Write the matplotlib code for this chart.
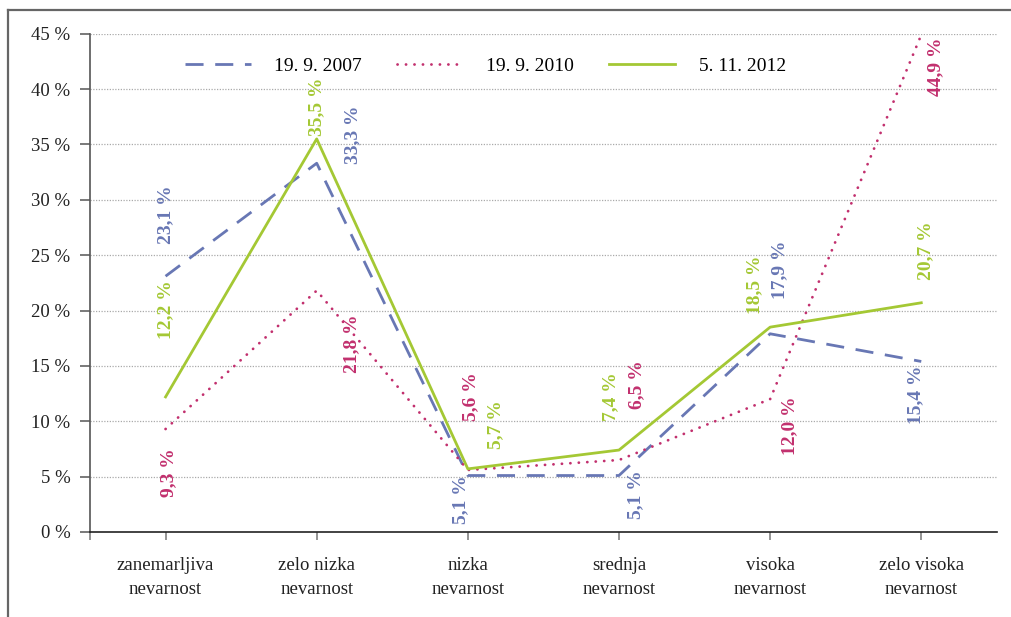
import matplotlib
matplotlib.use('Agg')
import matplotlib.pyplot as plt
from matplotlib.lines import Line2D
import numpy as np

plt.rcParams['font.family'] = ['Liberation Serif', 'DejaVu Serif']

# categories and series
categories = ['zanemarljiva\nnevarnost', 'zelo nizka\nnevarnost', 'nizka\nnevarnost',
              'srednja\nnevarnost', 'visoka\nnevarnost', 'zelo visoka\nnevarnost']
v2007 = [23.1, 33.3, 5.1, 5.1, 17.9, 15.4]
v2010 = [9.3, 21.8, 5.6, 6.5, 12.0, 44.9]
v2012 = [12.2, 35.5, 5.7, 7.4, 18.5, 20.7]
series_names = ['19. 9. 2007', '19. 9. 2010', '5. 11. 2012']

c_blue = '#6877b4'
c_mag = '#c2306e'
c_green = '#a4c834'

# label offsets in pixels (dx, dy) from each point
off2007 = [(0, 62), (36, 29), (-7, -24), (17, -19), (10, 64), (-6, -33)]
off2010 = [(3, -44), (35, -53), (3, 73), (18, 75), (20, -27), (14, -32)]
off2012 = [(0, 87), (0, 32), (28, 44), (-8, 53), (-15, 42), (4, 52)]

fig = plt.figure(figsize=(10.11, 6.17), dpi=100)
ax = fig.add_axes([0.089, 1 - 532 / 617, 0.897, (532 - 33.7) / 617])

x = np.arange(len(categories))
ax.plot(x, v2007, color=c_blue, lw=2.0, dashes=(6.5, 4.2), label=series_names[0])
ax.plot(x, v2010, color=c_mag, lw=2.0, linestyle=(0, (0.05, 3.0)),
        dash_capstyle='round', label=series_names[1])
ax.plot(x, v2012, color=c_green, lw=2.0, label=series_names[2])

def fmt(v):
    return f'{v:.1f}'.replace('.', ',') + ' %'

for vals, offs, col in [(v2007, off2007, c_blue), (v2010, off2010, c_mag),
                        (v2012, off2012, c_green)]:
    for i, (v, (dx, dy)) in enumerate(zip(vals, offs)):
        ax.annotate(fmt(v), (i, v), xytext=(dx, dy), textcoords='offset pixels',
                    rotation=90, ha='center', va='center', color=col,
                    fontsize=14, fontweight='bold')

ax.set_xlim(-0.5, 5.5)
ax.set_ylim(0, 45)
ax.set_yticks(np.arange(0, 46, 5))
ax.set_yticklabels([f'{t} %' for t in range(0, 46, 5)])
ax.set_xticks(x)
ax.set_xticklabels(categories, fontsize=13.5, color='#222222', linespacing=1.5)
ax.set_xticks([-0.5], minor=True)
ax.tick_params(axis='y', length=7, width=1.1, color='#555555', pad=7,
               labelsize=13.5, labelcolor='#222222')
ax.tick_params(axis='x', which='both', length=6, width=1.1, color='#777777', pad=12)

for y in range(5, 46, 5):
    ax.axhline(y, color='#aaaaaa', lw=0.9, linestyle=(0, (1, 1.2)), zorder=0)

for s in ['top', 'right']:
    ax.spines[s].set_visible(False)
ax.spines['left'].set_color('#555555')
ax.spines['left'].set_linewidth(1.2)
ax.spines['bottom'].set_color('#222222')
ax.spines['bottom'].set_linewidth(1.2)

leg = ax.legend(loc='center left', bbox_to_anchor=(0.085, 0.935), ncol=3,
                frameon=False, fontsize=14, handlelength=3.4, handletextpad=1.2,
                columnspacing=1.8)

# outer frame (top and left edge)
fig.add_artist(Line2D([8 / 1011, 1.0], [1 - 10 / 617, 1 - 10 / 617],
                      color='#666666', lw=1.6, transform=fig.transFigure))
fig.add_artist(Line2D([8 / 1011, 8 / 1011], [0, 1 - 10 / 617],
                      color='#666666', lw=1.6, transform=fig.transFigure))

fig.savefig('out.png', dpi=100, facecolor='white')
